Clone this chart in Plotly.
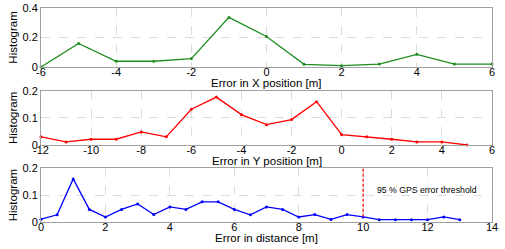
import plotly.graph_objects as go

x_pos = [-6, -5, -4, -3, -2, -1, 0, 1, 2, 3, 4, 5, 6]
hist_x = [0.0, 0.159, 0.039, 0.039, 0.057, 0.336, 0.207, 0.018, 0.009, 0.02, 0.086, 0.02, 0.02]

y_pos = [-12, -11, -10, -9, -8, -7, -6, -5, -4, -3, -2, -1, 0, 1, 2, 3, 4, 5]
hist_y = [0.03, 0.011, 0.021, 0.021, 0.048, 0.03, 0.132, 0.177, 0.112, 0.075, 0.094, 0.16,
          0.038, 0.03, 0.021, 0.011, 0.011, 0.0]

dist = [0, 0.5, 1, 1.5, 2, 2.5, 3, 3.5, 4, 4.5, 5, 5.5, 6, 6.5, 7, 7.5, 8, 8.5, 9, 9.5,
        10, 10.5, 11, 11.5, 12, 12.5, 13]
hist_d = [0.011, 0.027, 0.16, 0.047, 0.019, 0.047, 0.067, 0.028, 0.056, 0.047, 0.075, 0.075,
          0.047, 0.027, 0.056, 0.047, 0.019, 0.028, 0.01, 0.028, 0.019, 0.009, 0.009, 0.009,
          0.009, 0.019, 0.009]

xticks1 = [-6, -4, -2, 0, 2, 4, 6]
xticks2 = [-12, -10, -8, -6, -4, -2, 0, 2, 4, 6]
xticks3 = [0, 2, 4, 6, 8, 10, 12, 14]

x_titles = ["Error in X position [m]", "Error in Y position [m]", "Error in distance [m]"]

threshold_x = [10, 10]
threshold_y = [0.02, 0.2]
threshold_label = "95 % GPS error threshold"

FONT = "Liberation Sans, Arial, sans-serif"


def labels(vals):
    return [str(v) for v in vals]  # plain hyphen minus, as in the reference


fig = go.Figure()
fig.add_trace(go.Scatter(x=x_pos, y=hist_x, mode="lines+markers",
                         line=dict(color="#1e8c1e", width=1.3), marker=dict(size=3),
                         xaxis="x", yaxis="y", cliponaxis=False))
fig.add_trace(go.Scatter(x=y_pos, y=hist_y, mode="lines+markers",
                         line=dict(color="#ff0000", width=1.3), marker=dict(size=3),
                         xaxis="x2", yaxis="y2", cliponaxis=False))
fig.add_trace(go.Scatter(x=dist, y=hist_d, mode="lines+markers",
                         line=dict(color="#0000ff", width=1.3), marker=dict(size=3),
                         xaxis="x3", yaxis="y3", cliponaxis=False))
fig.add_trace(go.Scatter(x=threshold_x, y=threshold_y, mode="lines",
                         line=dict(color="#ff3030", width=1.5, dash="3px,2px"),
                         xaxis="x3", yaxis="y3"))

ax_common = dict(showline=True, linecolor="#a0a0a0", linewidth=1, mirror=True,
                 showgrid=True, gridcolor="#dcdcdc", griddash="dash", gridwidth=1,
                 zeroline=False, ticks="", automargin=False,
                 tickfont=dict(family=FONT, size=11, color="#000"))
title_font = dict(family=FONT, size=11.5, color="#000")

domains = [[0.731, 0.968], [0.418, 0.635], [0.108, 0.325]]

fig.update_layout(
    width=505, height=249, showlegend=False,
    margin=dict(l=41, r=13, t=0, b=0),
    paper_bgcolor="white", plot_bgcolor="white",
    xaxis=dict(domain=[0, 1], anchor="y", range=[-6, 6], tickvals=xticks1,
               ticktext=labels(xticks1), ticklabelstandoff=-5, **ax_common),
    yaxis=dict(domain=domains[0], anchor="x", range=[0, 0.4], tickvals=[0, 0.2, 0.4],
               ticktext=["0", "0.2", "0.4"],
               title=dict(text="Histogram", font=title_font, standoff=2), **ax_common),
    xaxis2=dict(domain=[0, 1], anchor="y2", range=[-12, 6], tickvals=xticks2,
                ticktext=labels(xticks2), ticklabelstandoff=-5, **ax_common),
    yaxis2=dict(domain=domains[1], anchor="x2", range=[0, 0.2], tickvals=[0, 0.1, 0.2],
                ticktext=["0", "0.1", "0.2"],
                title=dict(text="Histogram", font=title_font, standoff=2), **ax_common),
    xaxis3=dict(domain=[0, 1], anchor="y3", range=[0, 14], tickvals=xticks3,
                ticktext=labels(xticks3), ticklabelstandoff=-5, **ax_common),
    yaxis3=dict(domain=domains[2], anchor="x3", range=[0, 0.2], tickvals=[0, 0.1, 0.2],
                ticktext=["0", "0.1", "0.2"],
                title=dict(text="Histogram", font=title_font, standoff=2), **ax_common),
)

for title, dom in zip(x_titles, domains):
    fig.add_annotation(x=0.5, y=dom[0], xref="paper", yref="paper", text=title,
                       showarrow=False, xanchor="center", yanchor="middle", yshift=-16,
                       font=title_font)

fig.add_annotation(x=10.37, y=0.118, xref="x3", yref="y3", text=threshold_label,
                   showarrow=False, xanchor="left", yanchor="middle",
                   font=dict(family=FONT, size=8.7, color="#000"))

fig.write_html("out.html", config={"displayModeBar": False},
               post_script="document.body.style.margin='0';")
